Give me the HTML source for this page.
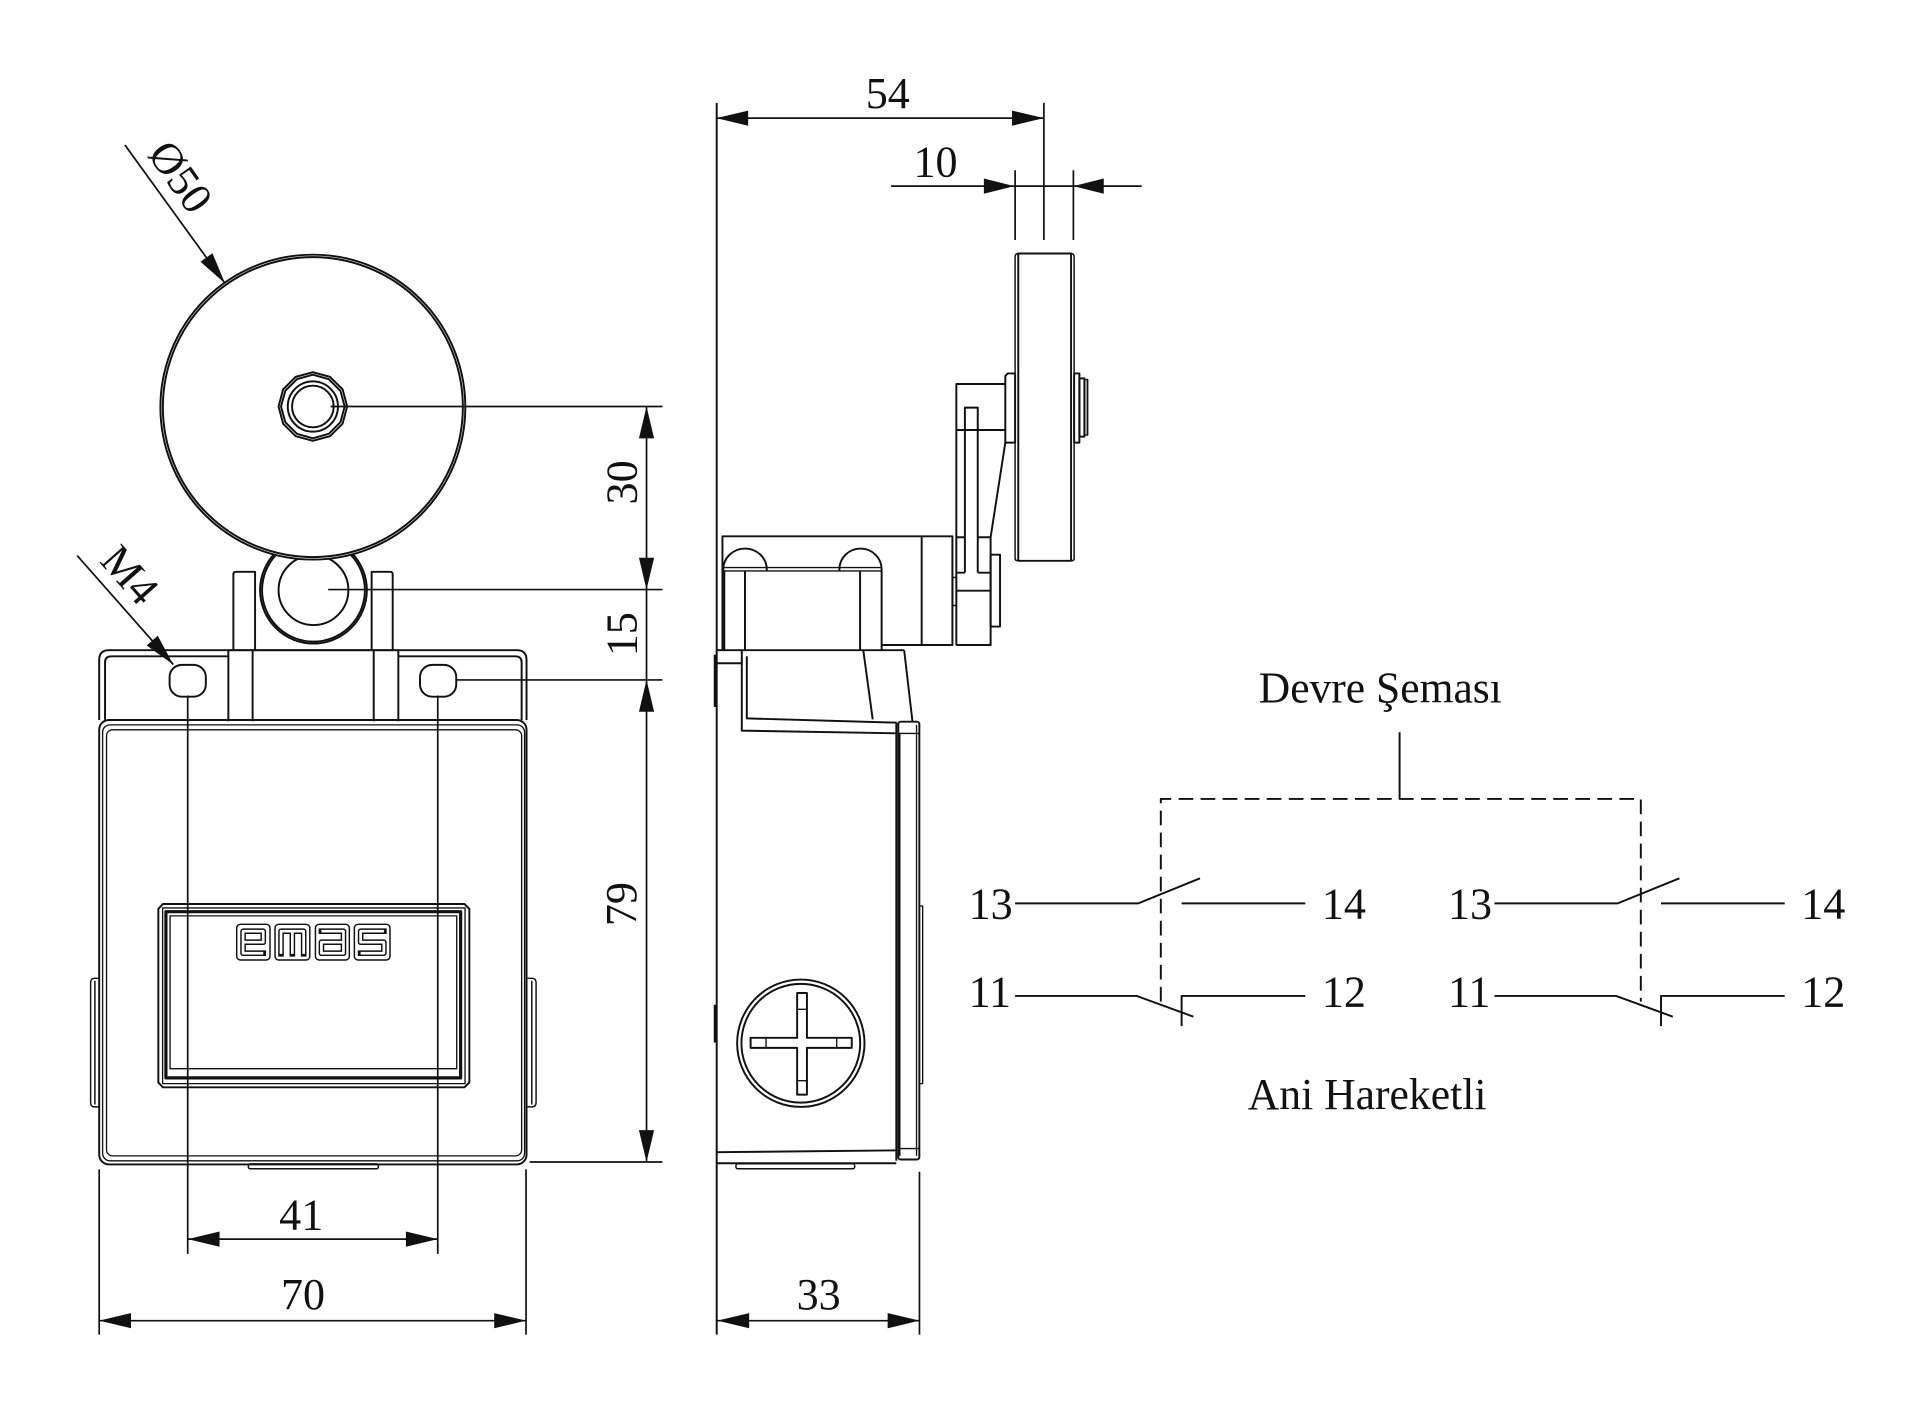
<!DOCTYPE html>
<html><head><meta charset="utf-8"><style>
html,body{margin:0;padding:0;background:#fff;}
svg{display:block;}
text{font-family:"Liberation Serif","DejaVu Serif",serif;fill:#111;}
</style></head><body>
<svg xmlns="http://www.w3.org/2000/svg" width="1920" height="1413" viewBox="0 0 1568 1154" preserveAspectRatio="none">
<rect x="0" y="0" width="1568" height="1154" fill="#fff"/>
<g fill="none" stroke="#111" stroke-width="1.6" stroke-linejoin="round">

<!-- ===== FRONT VIEW ===== -->
<!-- lever teardrop -->
<circle cx="256" cy="482" r="43.6"/>
<circle cx="256" cy="482" r="42"/>
<circle cx="256" cy="482" r="28.5"/>
<!-- roller -->
<circle cx="255.5" cy="332.5" r="124.5" fill="#fff"/>
<circle cx="255.5" cy="332.5" r="122.5"/>
<polygon points="283.5,332 279.8,346 269.5,356.2 255.5,360 241.5,356.2 231.2,346 227.5,332 231.2,318 241.5,307.8 255.5,304 269.5,307.8 279.8,318"/>
<polygon points="281.5,332 278,344.8 268.5,354.3 255.5,358 242.5,354.3 233,344.8 229.5,332 233,319.2 242.5,309.7 255.5,306 268.5,309.7 278,319.2"/>
<circle cx="255.5" cy="332" r="20.5"/>
<circle cx="255.5" cy="332" r="17"/>

<!-- upper bracket tabs -->
<path d="M190.6 531 V469 Q190.6 467 192.6 467 H208.3 V531"/>
<path d="M303.5 531 V467 H318.7 Q320.7 467 320.7 469 V531"/>

<!-- flange -->
<path d="M81 588 V539 Q81 531 89 531 H422 Q430 531 430 539 V588"/>
<path d="M85.8 588 V541 Q85.8 536 90.8 536 H186.5 M325.3 536 H421 Q426 536 426 541 V588"/>
<!-- lower bracket -->
<path d="M186.5 531 V589 M325.3 531 V589 M186.5 531 H325.3 M206.3 531 V589 M305.2 531 V589"/>
<!-- holes -->
<rect x="138.5" y="543" width="29.6" height="26" rx="10"/>
<rect x="343" y="543" width="29.6" height="26" rx="10"/>

<!-- body -->
<rect x="81" y="588" width="349" height="363" rx="8"/>
<rect x="83.8" y="592" width="344.6" height="356" rx="6" stroke-width="1.1"/>
<rect x="87" y="596" width="339" height="348" rx="5" stroke-width="1.1"/>
<!-- side bumps -->
<path d="M81 799 H77 Q74 799 74 803 V900 Q74 904 77 904 H81 M77.5 801 V902" stroke-width="1.2"/>
<path d="M430 799 H434.5 Q437.8 799 437.8 803 V900 Q437.8 904 434.5 904 H430 M434.3 801 V902" stroke-width="1.2"/>
<!-- bottom tab -->
<rect x="202.8" y="950.5" width="106.2" height="4" rx="1.5" stroke-width="1.2"/>

<!-- window -->
<path d="M133 738.3 H379.3 L383.3 742.3 V884 L379.3 888 H133 L129.3 884 V742.3 Z"/>
<rect x="132.8" y="741.5" width="247" height="143.5" stroke-width="1.1"/>
<rect x="135.5" y="744.6" width="240.7" height="135.7" stroke-width="2.6"/>
<rect x="138.9" y="748" width="234.1" height="124.8" stroke-width="1.1"/>

<!-- emas logo -->
<g stroke-width="1.2">
<rect x="193.3" y="754.9" width="27.2" height="29.1" rx="3"/>
<rect x="224.6" y="754.9" width="28.4" height="29.1" rx="3"/>
<rect x="257.6" y="754.9" width="27.7" height="29.1" rx="3"/>
<rect x="289.4" y="754.9" width="29.1" height="29.1" rx="3"/>
</g>
<g stroke-width="4.6" stroke-linecap="square">
<path d="M215 778.5 H198.5 V760.5 H215 V769.5 H198.5"/>
<path d="M229.5 779 V760.5 H248 V779 M238.75 760.5 V779"/>
<path d="M262.5 760.5 H280.5 V778.5 H262.5 V769.5 H280.5"/>
<path d="M313.5 760.5 H294.5 V769.5 H313.5 V778.5 H294.5"/>
</g>
<g stroke="#fff" stroke-width="2.2" stroke-linecap="butt">
<path d="M215 778.5 H198.5 V760.5 H215 V769.5 H198.5"/>
<path d="M229.5 779 V760.5 H248 V779 M238.75 760.5 V779"/>
<path d="M262.5 760.5 H280.5 V778.5 H262.5 V769.5 H280.5"/>
<path d="M313.5 760.5 H294.5 V769.5 H313.5 V778.5 H294.5"/>
</g>

<!-- front dimension/extension lines -->
<g stroke-width="1.4">
<path d="M270 332 H541"/>
<path d="M268 481.5 H541"/>
<path d="M372 555.3 H541"/>
<path d="M432.5 949 H541"/>
<path d="M528 332 V949"/>
<path d="M153.3 568 V1024 M357.5 568 V1024"/>
<path d="M153.3 1012 H357.5"/>
<path d="M81 955 V1090 M429.6 955 V1090"/>
<path d="M81 1078.6 H429.6"/>
<path d="M102 118.4 L183.8 231.4"/>
<path d="M63 453.7 L141.5 542.7"/>
</g>

<!-- ===== SIDE VIEW ===== -->
<!-- roller -->
<rect x="831.6" y="207" width="43.1" height="251"/>
<path d="M829 456 V210 Q829 207 831.6 207 M874.7 207 Q877.2 207 877.2 210 V456 Q877.2 458 874.7 458 M831.6 458 Q829 458 829 456" stroke-width="1.2"/>
<path d="M821 361.5 V307 L823 305 H829 V361.5 Z"/>
<rect x="877.2" y="305" width="4.3" height="56.5"/>
<rect x="881.5" y="309" width="4.1" height="47.6"/>
<rect x="885.6" y="310" width="2.7" height="45.3" fill="#999" stroke-width="1.1"/>
<!-- lever -->
<path d="M781 527 V313.6 H821 M781 351.2 H821 M821 361.5 L809 438.8 V526.8 H781 M781 482.4 H809 M781 438.8 H788 M798.5 438.8 H809"/>
<path d="M788 467.7 V332.9 H798.5 V467.7 M781 467.7 H788 M798.5 467.7 H809"/>
<rect x="809" y="453" width="7.7" height="58.7"/>
<rect x="778" y="471.6" width="3" height="22.9" stroke-width="1.2"/>
<!-- top block -->
<path d="M590 531 V438 H777.8 V526.8 H720 M752.7 438 V526.8"/>
<path d="M590 466.3 H720 M590 463.5 H720" stroke-width="1.1"/>
<path d="M590.7 466.3 V465 A17.75 17 0 0 1 626.2 465 V466.3"/>
<path d="M685.5 466.3 V465 A17.25 17 0 0 1 720 465 V466.3"/>
<path d="M608.4 466.3 V531 M702.4 466.3 V531 M720 466.3 V531 M591.5 466.3 V531"/>

<!-- side body -->
<path d="M585.3 84 V1090"/>
<path d="M585.3 531 H738.4"/>
<path d="M585.3 541.7 H606"/>
<path d="M605.8 531 V596.7 L732.3 598.9"/>
<path d="M609.9 536 V586.7 L732.3 590.2"/>
<path d="M705 531 L712.7 587.5 M738.4 531 L745.2 589.4"/>
<path d="M732 590 V948 M734.6 599 V944"/>
<rect x="733.6" y="589.4" width="17.2" height="357.6" rx="2"/>
<path d="M733.6 599 H750.8 M748.5 592 V944 M733.6 938 H750.8" stroke-width="1.1"/>
<rect x="750.8" y="740" width="2.7" height="145" stroke-width="1.1"/>
<rect x="583.3" y="535" width="2" height="42" fill="#111" stroke-width="0.8"/>
<rect x="583.3" y="821" width="2" height="30" fill="#111" stroke-width="0.8"/>
<path d="M585.3 941 L732 939.5 M585.3 950 H732"/>
<rect x="601" y="950.5" width="97" height="4" rx="1.5" stroke-width="1.2"/>
<!-- screw -->
<circle cx="654" cy="852" r="52"/>
<circle cx="654" cy="852" r="48.5"/>
<path d="M613 847.6 H651 V811 H659 V847.6 H695.6 V855.8 H659 V894 H651 V855.8 H613 Z"/>
<path d="M625.6 847.6 V855.8 M683.3 847.6 V855.8 M651 824.3 H659 M651 882.6 H659" stroke-width="1.1"/>

<!-- side dims -->
<g stroke-width="1.4">
<path d="M585 96.5 H852.5"/>
<path d="M852.5 84 V196"/>
<path d="M829 139 V196 M876.6 139 V196"/>
<path d="M727.7 152 H932.4"/>
<path d="M750.9 957 V1090"/>
<path d="M585.8 1078.6 H750.9"/>
</g>

<!-- ===== CIRCUIT ===== -->
<path d="M1143 598 V652.5"/>
<path d="M948 818 V652.5 H1340 V818" stroke-dasharray="12 6"/>
<g stroke-width="1.6">
<path d="M829 737.8 H929.6 L980 717.3 M965 737.8 H1066"/>
<path d="M829 813.4 H928.3 L974.6 830.3 M965 838 V813.4 H1066"/>
<path d="M1220.5 737.8 H1321.1 L1371.5 717.3 M1356.5 737.8 H1457.5"/>
<path d="M1220.5 813.4 H1319.8 L1366.1 830.3 M1356.5 838 V813.4 H1457.5"/>
</g>
</g>

<!-- arrowheads -->
<g fill="#111" stroke="none">
<polygon points="585,96.5 611,90.3 611,102.7"/>
<polygon points="852.5,96.5 826.5,90.3 826.5,102.7"/>
<polygon points="828.3,152 803.5,145.8 803.5,158.2"/>
<polygon points="876.6,152 901.4,145.8 901.4,158.2"/>
<polygon points="528,332 521.8,358 534.2,358"/>
<polygon points="528,481.5 521.8,455.5 534.2,455.5"/>
<polygon points="528,555.3 521.8,581.3 534.2,581.3"/>
<polygon points="528,949 521.8,923 534.2,923"/>
<polygon points="153.3,1012 179.3,1005.8 179.3,1018.2"/>
<polygon points="357.5,1012 331.5,1005.8 331.5,1018.2"/>
<polygon points="81,1078.6 107,1072.4 107,1084.8"/>
<polygon points="429.6,1078.6 403.6,1072.4 403.6,1084.8"/>
<polygon points="585.8,1078.6 611.8,1072.4 611.8,1084.8"/>
<polygon points="750.9,1078.6 724.9,1072.4 724.9,1084.8"/>
<polygon points="183.8,231.4 173.5,206.8 163.7,213.8"/>
<polygon points="141.5,542.7 128.8,519.2 119.8,527.2"/>
</g>

<!-- texts -->
<g font-size="36">
<text x="725" y="88.3" text-anchor="middle">54</text>
<text x="764" y="144.3" text-anchor="middle">10</text>
<text x="246" y="1004" text-anchor="middle">41</text>
<text x="247.5" y="1069" text-anchor="middle">70</text>
<text x="668.6" y="1069" text-anchor="middle">33</text>
<text transform="translate(520,394) rotate(-90)" text-anchor="middle">30</text>
<text transform="translate(520,518) rotate(-90)" text-anchor="middle">15</text>
<text transform="translate(519.5,738.4) rotate(-90)" text-anchor="middle">79</text>
<text transform="translate(137.7,151.3) rotate(54.8)" text-anchor="middle">Ø50</text>
<text transform="translate(97.1,477.3) rotate(48.6)" text-anchor="middle">M4</text>

<text x="1028" y="573.7" textLength="198.5" lengthAdjust="spacingAndGlyphs">Devre Şeması</text>
<text x="1019" y="905.6" textLength="195" lengthAdjust="spacingAndGlyphs">Ani Hareketli</text>

<text x="791" y="750">13</text>
<text x="1079.5" y="750">14</text>
<text x="791" y="822">11</text>
<text x="1079.5" y="822">12</text>
<text x="1182.5" y="750">13</text>
<text x="1471" y="750">14</text>
<text x="1182.5" y="822">11</text>
<text x="1471" y="822">12</text>
</g>
</svg>
</body></html>
